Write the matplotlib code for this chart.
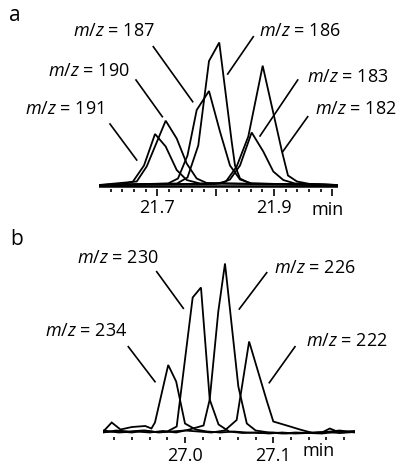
import matplotlib
matplotlib.use("Agg")
import matplotlib.pyplot as plt
from matplotlib.lines import Line2D

plt.rcParams['font.family'] = ['Open Sans', 'DejaVu Sans']
plt.rcParams['mathtext.fontset'] = 'custom'
plt.rcParams['mathtext.it'] = 'Open Sans:italic'
plt.rcParams['mathtext.rm'] = 'Open Sans'
plt.rcParams['mathtext.default'] = 'it'

# ---------------- data: panel a (time in min, intensity a.u.) ----------------
a_labels = ['191', '190', '187', '186', '183', '182']
a_t191 = [21.600, 21.6394, 21.6583, 21.6772, 21.6961, 21.7144, 21.7333, 21.7504, 21.7732, 22.010]
a_y191 = [0.5, 1, 4, 20, 51.5, 39, 15.5, 5.5, 2, 0.5]
a_t190 = [21.600, 21.6647, 21.6818, 21.7144, 21.7333, 21.7504, 21.7676, 21.7847, 22.010]
a_y190 = [0.5, 4, 19, 64.8, 47, 22, 7, 2.5, 0.5]
a_t187 = [21.600, 21.7184, 21.7355, 21.7518, 21.7676, 21.7887, 21.8075, 21.8247, 21.8419, 21.8624, 22.010]
a_y187 = [0.5, 2, 7, 30, 75.5, 94.5, 54, 20, 6, 2, 0.5]
a_t186 = [21.600, 21.7338, 21.7518, 21.7703, 21.7887, 21.8063, 21.8276, 21.8333, 21.8419, 21.8590, 22.010]
a_y186 = [0.5, 2, 8, 40, 124.5, 143, 44, 20, 7, 2, 0.5]
a_t183 = [21.600, 21.8075, 21.8247, 21.8419, 21.8619, 21.8818, 21.8990, 21.9161, 21.9362, 22.010]
a_y183 = [0.5, 2, 6, 20, 53, 34, 14, 5.5, 2, 0.5]
a_t182 = [21.600, 21.7990, 21.8178, 21.8362, 21.8561, 21.8808, 21.9139, 21.9242, 21.9396, 21.9619, 22.010]
a_y182 = [0.5, 1.5, 4, 19, 49, 119.8, 34, 10, 4, 1.5, 0.5]
a_major = [21.7, 21.8, 21.9, 22.0]
a_major_lbl = ['21.7', '', '21.9', '']
a_minor = [21.62, 21.64, 21.66, 21.68, 21.72, 21.74, 21.76, 21.78,
           21.82, 21.84, 21.86, 21.88, 21.92, 21.94, 21.96, 21.98]

# ---------------- data: panel b ----------------
b_labels = ['234', '230', '226', '222']
b_t234 = [26.9075, 26.917, 26.927, 26.940, 26.955, 26.962, 26.966, 26.981, 26.990, 27.000, 27.012,
          27.025, 27.040, 27.055, 27.070, 27.085, 27.100, 27.115, 27.130, 27.145, 27.160, 27.175, 27.1925]
b_y234 = [5, 14, 7, 9.5, 10.5, 8, 14, 71.5, 55, 13, 7, 5, 4, 5, 4, 3.5, 4, 3, 3.5, 4, 4.5, 3.5, 4.5]
b_t230 = [26.9075, 26.922, 26.937, 26.952, 26.967, 26.980, 26.9906, 27.0087, 27.0181, 27.028, 27.038,
          27.050, 27.065, 27.080, 27.095, 27.110, 27.125, 27.140, 27.155, 27.164, 27.175, 27.1925]
b_y230 = [4, 6, 5, 6, 4.5, 5, 10, 139, 149, 37, 12, 5, 3.5, 4, 3, 4, 3, 3.5, 4, 8, 4, 5]
b_t226 = [26.9075, 26.925, 26.945, 26.960, 26.975, 26.990, 27.005, 27.021, 27.028, 27.0377, 27.0453,
          27.0604, 27.070, 27.080, 27.095, 27.110, 27.125, 27.140, 27.155, 27.170, 27.1925]
b_y226 = [6, 4, 5, 4, 5.5, 4, 7, 11, 37, 125, 173, 50, 13, 6, 4, 3, 4, 3.5, 3, 4.5, 5.5]
b_t222 = [26.9075, 26.925, 26.940, 26.955, 26.970, 26.985, 27.000, 27.015, 27.030, 27.045, 27.0585,
          27.0726, 27.0925, 27.100, 27.119, 27.132, 27.145, 27.160, 27.175, 27.1925]
b_y222 = [4.5, 5, 4, 6, 4, 5, 6, 5, 4, 6, 16.5, 95, 36, 15, 10, 6.5, 3.5, 4.5, 6, 4]
b_major = [27.0, 27.1]
b_major_lbl = ['27.0', '27.1']
b_minor = [26.92, 26.94, 26.96, 26.98, 27.02, 27.04, 27.06, 27.08, 27.12, 27.14, 27.16, 27.18]

# ---------------- figure ----------------
W, H = 398, 468
fig = plt.figure(figsize=(W / 100, H / 100), dpi=100)


def fx(px):
    return px / W


def fy(py):
    return 1 - py / H


LW = 1.3
FS = 13

# panel a
axA = fig.add_axes([fx(99), fy(188.5), 239 / W, 150 / H])
axA.set_xlim(21.6, 22.01)
axA.set_ylim(-3, 147)
axA.axhline(0, color='black', lw=1.8)
for t, y in [(a_t191, a_y191), (a_t190, a_y190), (a_t187, a_y187),
             (a_t186, a_y186), (a_t183, a_y183), (a_t182, a_y182)]:
    axA.plot(t, y, color='black', lw=LW, solid_joinstyle='miter')

# panel b
axB = fig.add_axes([fx(103.3), fy(436.5), 251.7 / W, 180 / H])
axB.set_xlim(26.9075, 27.1925)
axB.set_ylim(0, 180)
for t, y in [(b_t234, b_y234), (b_t230, b_y230), (b_t226, b_y226), (b_t222, b_y222)]:
    axB.plot(t, y, color='black', lw=LW, solid_joinstyle='miter')

for ax, maj, lbl, mnr, mlen in [(axA, a_major, a_major_lbl, a_minor, 4.8),
                                (axB, b_major, b_major_lbl, b_minor, 4.3)]:
    for s in ax.spines.values():
        s.set_visible(False)
    ax.set_yticks([])
    ax.set_xticks(maj)
    ax.set_xticklabels(lbl)
    ax.set_xticks(mnr, minor=True)
    ax.tick_params(axis='x', which='major', direction='out', length=mlen, width=1.2,
                   labelsize=FS, pad=3)
    ax.tick_params(axis='x', which='minor', direction='out', length=2.5, width=1.2)
    ax.patch.set_visible(False)

fig.text(fx(311.5), fy(215.5), 'min', ha='left', va='baseline', fontsize=FS)
fig.text(fx(303), fy(456), 'min', ha='left', va='baseline', fontsize=FS)

# panel letters
fig.text(fx(9.5), fy(21), 'a', ha='left', va='baseline', fontsize=15)
fig.text(fx(10.5), fy(245), 'b', ha='left', va='baseline', fontsize=15)

# labels with leader lines: (text, x_left, baseline_y, line)
labels = [
    ('187', 72.7, 35.5, (153.3, 46.7, 192.7, 101.7)),
    ('186', 259.0, 35.5, (253.3, 36.7, 227.7, 74.0)),
    ('190', 47.7, 76.0, (136.0, 80.0, 162.3, 116.7)),
    ('183', 306.7, 81.5, (297.7, 80.0, 260.0, 136.0)),
    ('191', 25.0, 114.5, (110.0, 124.0, 136.7, 160.0)),
    ('182', 315.0, 114.5, (307.7, 116.7, 282.7, 151.7)),
    ('230', 76.7, 262.7, (156.7, 271.7, 183.3, 308.3)),
    ('226', 274.0, 272.7, (266.7, 272.7, 239.3, 309.0)),
    ('234', 45.0, 336.0, (128.3, 346.7, 155.0, 381.7)),
    ('222', 306.0, 346.0, (295.0, 346.7, 269.3, 382.7)),
]
for mz, x0, yb, (x1, y1, x2, y2) in labels:
    fig.text(fx(x0), fy(yb), r'$m/z$ = ' + mz, ha='left', va='baseline', fontsize=FS)
    fig.add_artist(Line2D([fx(x1), fx(x2)], [fy(y1), fy(y2)], color='black', lw=1.2,
                          transform=fig.transFigure))

fig.savefig('out.png', dpi=100)
